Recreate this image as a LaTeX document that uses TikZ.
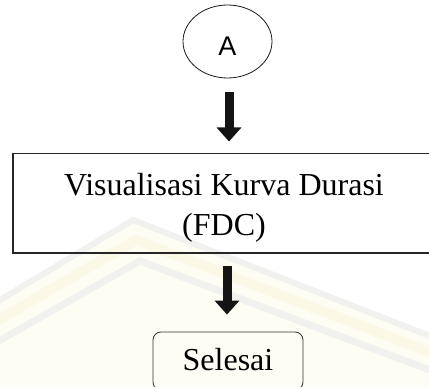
\documentclass[tikz,border=0pt]{standalone}
\usepackage{fontspec}
\setmainfont{Liberation Serif}
\newfontfamily\arialfont{Liberation Sans}
\usetikzlibrary{arrows.meta,shapes.geometric}
\definecolor{wmcream}{HTML}{FEFDF4}
\definecolor{wmgrey}{HTML}{F1F1EF}
\definecolor{wmyellow}{HTML}{FCF8E6}
\tikzset{
  boxline/.style={draw=black!85, line width=1.1pt},
  bigtext/.style={font=\fontsize{32}{40}\selectfont, inner sep=0pt},
  bigarrow/.style={draw=black!92, line width=9pt, -{Triangle[width=24pt,length=14pt]}},
}
\begin{document}
\begin{tikzpicture}[x=1pt,y=-1pt]
\useasboundingbox (0,0) rectangle (429,387);
\clip (0,0) rectangle (429,387);
\fill[white] (0,0) rectangle (429,387);
% faint watermark
\fill[wmcream] (0,300) -- (133,218) -- (429,333) -- (429,387) -- (0,387) -- cycle;
\draw[wmgrey, line width=6pt] (-5,303) -- (133,220) -- (435,338);
\draw[wmyellow, line width=10pt] (-5,322) -- (136,240) -- (435,354);
\draw[wmgrey, line width=7pt] (-5,343) -- (140,261) -- (435,372);
% nodes
\node[draw=black!90, line width=0.8pt, ellipse, minimum width=89pt, minimum height=73pt, inner sep=0pt] (A) at (227.5,41.5) {};
\node[font=\arialfont\fontsize{27}{27}\selectfont, inner sep=0pt] (Atext) at ([yshift=-4.5pt]A.center) {A};
\node[boxline, rectangle, minimum width=432pt, minimum height=99.5pt, inner sep=0pt] (fdc) at (229,203.3) {};
\node[bigtext, align=center] (fdctext) at (224,207.6) {Visualisasi Kurva Durasi\\(FDC)};
\node[draw=black!80, line width=0.8pt, rectangle, rounded corners=8pt, fill=wmcream, minimum width=150pt, minimum height=58pt, inner sep=0pt] (sel) at (228,361) {};
\node[bigtext] (seltext) at (228,359.3) {Selesai};
% connectors
\draw[bigarrow] ([xshift=1.5pt,yshift=-14pt]A.south) -- ([xshift=0pt,yshift=11.5pt]fdc.north);
\draw[bigarrow] ([xshift=-2pt,yshift=-12pt]fdc.south) -- ([xshift=-1pt,yshift=17pt]sel.north);
\end{tikzpicture}
\end{document}
